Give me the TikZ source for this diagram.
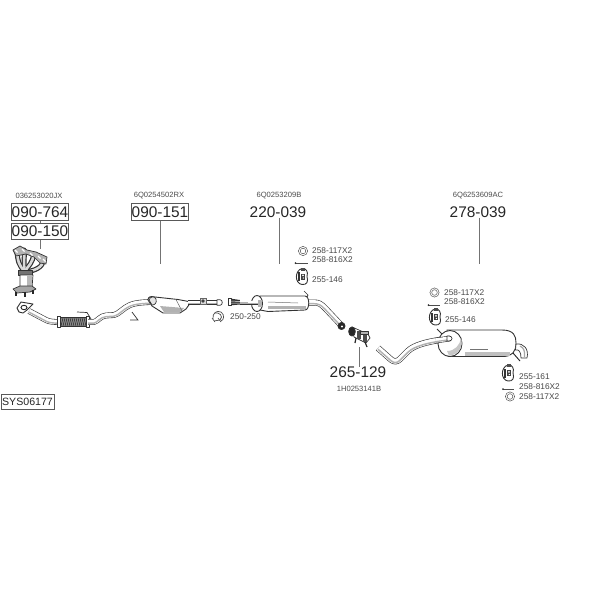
\documentclass[tikz,border=0pt]{standalone}
\usepackage{fontspec}
\setmainfont{Liberation Sans}
\tikzset{
  px/.style={x=1pt,y=-1pt},
  partno/.style={font=\fontsize{15.4}{16}\selectfont,text=black!85,inner sep=0pt},
  boxed/.style={partno,draw=black!65,line width=.6pt,minimum width=56pt,minimum height=16.5pt},
  oem/.style={font=\fontsize{7.6}{8}\selectfont,text=black!70,inner sep=0pt},
  small/.style={font=\fontsize{8.3}{9}\selectfont,text=black!72,inner sep=0pt,anchor=west},
  leader/.style={draw=black!55,line width=.7pt},
  ol/.style={draw=black!80,line width=.7pt,line join=round},
  ring/.style={draw=black!65,line width=.5pt,fill=white},
}
\newcommand{\pipeline}[2]{%
  \draw[black!80,line width=#1+1.2pt,line cap=butt,line join=round] #2;
  \draw[white,line width=#1,line cap=butt,line join=round] #2;
  \draw[black!30,line width=.3*#1,line cap=butt,line join=round,transform canvas={yshift=-.25*#1}] #2;
}
\newcommand{\washer}[1]{%
  \draw[ring] #1 circle[radius=4.6pt];
  \draw[ring] #1 circle[radius=2.8pt];
}
\newcommand{\hanger}[1]{%
  \begin{scope}[shift={#1}]
    \draw[ol,fill=white,line width=.9pt] (0,-8) .. controls (-7.5,-6) and (-7.5,7) .. (0,8) .. controls (5,8.5) and (6.5,5) .. (5,0) .. controls (6.5,-5) and (4,-8.5) .. (0,-8) -- cycle;
    \fill[black!80] (-4,-4.5) rectangle (-2,4.5);
    \fill[black!75] (-.6,-3) rectangle (3,3);
    \fill[black!70] (-1.5,-8.6) rectangle (3,-6);
    \fill[white] (1,-1.2) circle[radius=1pt];
    \fill[white] (1.4,1.5) circle[radius=.7pt];
  \end{scope}
}
\begin{document}
\begin{tikzpicture}[px]
\useasboundingbox (0,0) rectangle (600,600);
\fill[white] (0,0) rectangle (600,600);

% ---------- labels ----------
\node[oem] (o1) at (39,196) {036253020JX};
\node[oem] (o2) at (159,196) {6Q0254502RX};
\node[oem] (o3) at (279,196) {6Q0253209B};
\node[oem] (o4) at (478,196) {6Q6253609AC};
\node[oem] (o5) at (359,389) {1H0253141B};

\node[boxed] (a) at (40,212) {090-764};
\node[boxed] (b) at (40,231.5) {090-150};
\node[boxed] (c) at (160,212) {090-151};
\node[partno] (d) at (278,212) {220-039};
\node[partno] (e) at (478,212) {278-039};
\node[partno] (f) at (358,372.5) {265-129};
\node[boxed,minimum width=53pt,minimum height=15pt,font=\fontsize{10.6}{12}\selectfont] (s) at (27.5,401.5) {SYS06177};

\coordinate (bend) at (40,249);
\coordinate (cend) at (160,264);
\coordinate (dend) at (279,264);
\coordinate (eend) at (479,264);
\coordinate (fend) at (359,347);
\draw[leader] (a.south) -- (b.north);
\draw[leader] (b.south) -- (bend);
\draw[leader] (c.south) -- (cend);
\draw[leader] (d.south -| dend) -- (dend);
\draw[leader] (e.south -| eend) -- (eend);
\draw[leader] (f.north -| fend) -- (fend);

\node[small] (l1) at (312,251) {258-117X2};
\node[small] (l2) at (312,260) {258-816X2};
\node[small] (l3) at (312,280) {255-146};
\node[small] (l4) at (230,317) {250-250};
\node[small] (l5) at (444,292.5) {258-117X2};
\node[small] (l6) at (444,302) {258-816X2};
\node[small] (l7) at (445,320) {255-146};
\node[small] (l8) at (519,377) {255-161};
\node[small] (l9) at (519,386.5) {258-816X2};
\node[small] (l10) at (519,396.5) {258-117X2};

% ---------- small hardware ----------
\washer{(303,251)}
\washer{(434.5,292.5)}
\washer{(510,396.5)}
\draw[black!70,line width=.7pt] (296,263) -- (308,263);
\fill[black!80] (295.5,263) circle[radius=1pt];
\draw[black!70,line width=.7pt] (429,305) -- (440,305);
\fill[black!80] (428.5,305) circle[radius=1pt];
\draw[black!70,line width=.7pt] (503,389) -- (514,389);
\fill[black!80] (503,389) circle[radius=1pt];
\hanger{(302,276.5)}
\hanger{(435,317)}
\hanger{(508,373)}

% ---------- manifold and catalyst ----------
\foreach \xa/\ya/\cx in {17/252/18,24/250/23,33/254/27,43/259/33}{
  \draw[black!80,line width=5pt,line cap=round] (\xa,\ya) .. controls (\xa+1,\ya+9) and (\cx,\ya+12) .. (25,272);
}
\foreach \xa/\ya/\cx in {17/252/18,24/250/23,33/254/27,43/259/33}{
  \draw[black!15,line width=2.6pt,line cap=round] (\xa,\ya) .. controls (\xa+1,\ya+9) and (\cx,\ya+12) .. (25,272);
}
\draw[ol,fill=black!30] (13,250) -- (20,246) -- (27,250) -- (36,252) -- (47,257) -- (46,264) -- (40,263) -- (34,257) -- (26,254) -- (16,256) -- cycle;
\foreach \p/\q in {15/250,22/249,30/253,38/256,43/259}{\draw[white,line width=1.2pt] (\p,\q) -- ++(2.5,2.5);}
\draw[ol,fill=black!55] (18,270) rectangle (32,275);
\draw[ol,fill=white] (20,275) -- (20,288) -- (32,288) -- (33,275) -- cycle;
\fill[black!28] (27,276) rectangle (32,287);
\draw[ol,fill=black!35] (13,289) -- (20,286) -- (32,286) -- (36,289) -- (30,292) -- (17,293) -- cycle;
\draw[black!85,line width=1.2pt] (16,292) -- (16,296) (25,292) -- (25,297) (33,290) -- (33,294);

% ---------- front pipe ----------
\pipeline{4.6pt}{(29,311) -- (46,320) .. controls (49,321.5) and (52,322) .. (60,322)}
\draw[ol,fill=white,line width=.9pt] (17,308) -- (21,302) -- (33,304) -- (27,310) -- (23,313) -- (19,312) -- cycle;
\draw[black!85,line width=.9pt] (24,307.5) ellipse[x radius=3pt,y radius=2.2pt];
\draw[ol,fill=black!45] (59,317.5) rectangle (87,326.5);
\foreach \k in {0,...,13}{\draw[black!85,line width=.6pt] (60+2*\k,318) -- (62+2*\k,326);}
\draw[ol,fill=white] (57.5,316.5) rectangle (60,327.5);
\draw[ol,fill=white] (86,316.5) rectangle (89,327.5);
\pipeline{4.6pt}{(88,322) -- (94,322) .. controls (98,321) and (100,316) .. (106,315.5) -- (114,315) .. controls (119,314) and (123,308) .. (130,305) .. controls (135,303) and (140,302.5) .. (150,302)}
\draw[black!80,line width=.7pt] (77,312) -- (87,312.5) -- (91,319);
\draw[black!80,line width=.7pt] (132,312) -- (138,320) -- (130,320);
% catalyst
\draw[ol,fill=white,line width=.9pt] (148,300) .. controls (148,296.5) and (151,296) .. (155,297) -- (178,299.5) -- (186,301) -- (191,302) -- (186,309) -- (180,313) -- (163,313) -- (152,306) -- cycle;
\draw[ol,fill=black!10] (149,300) .. controls (150,296) and (155,296) .. (156,299) .. controls (157,303) and (155,305) .. (152,305) -- cycle;
\fill[black!30] (160,306) -- (184,308) -- (180,312) -- (164,312) -- cycle;
\draw[black!60,line width=.5pt] (176,299.5) -- (182,311);
\pipeline{3.6pt}{(188,302.5) -- (219,302.5)}
\draw[ol,fill=white] (217,299.7) -- (220,299.7) .. controls (223,299.7) and (223,305.3) .. (220,305.3) -- (217,305.3) -- cycle;
\draw[black!60,line width=.5pt,fill=black!15] (200,298.5) rectangle (206,304.5);
\fill[black!75] (203,301) circle[radius=1.8pt];

% ---------- centre muffler ----------
\draw[ol,fill=white] (228,298.5) rectangle (231,305.5);
\fill[black!80] (231,298.7) -- (240,300) -- (240,304.5) -- (231,305.3) -- cycle;
\draw[white,line width=.5pt] (231,301) -- (240,301.5) (231,303) -- (240,303);
\pipeline{3.8pt}{(240,302) -- (262,302)}
\pipeline{4.8pt}{(306,302.5) -- (314,302.5) .. controls (319,302.5) and (321,304) .. (325,308) -- (341,325)}
\draw[ol,fill=white,line width=.9pt] (260,296) -- (305,296) .. controls (310,296) and (310,310) .. (305,310) -- (268,311.5) -- (260,310) -- cycle;
\fill[black!30] (268,305.5) rectangle (306,309);
\draw[black!55,line width=.5pt] (268,302) -- (298,303);
\draw[ol,fill=white,line width=.9pt] (257,303.5) ellipse[x radius=5.5pt,y radius=8pt];
\fill[black!30] (258,300) rectangle (261.5,307);
\pipeline{2.8pt}{(248,302.5) -- (258,302.5)}
\draw[black!80,line width=.7pt] (304,291) -- (308,295) -- (307,297);
\draw[ol,fill=black!85] (341.5,326) circle[radius=3.6pt];
\fill[white] (342,326.5) circle[radius=1.2pt];

% ---------- clamp 250-250 ----------
\draw[black!70,line width=.7pt] (213,319) .. controls (212,313) and (217,310) .. (221,312) .. controls (225,315) and (224,320) .. (221,321);
\draw[black!70,line width=.7pt] (215,313) .. controls (219,312) and (224,316) .. (220,320) -- (214,321);
\draw[black!70,line width=.6pt] (212,318) -- (215,322) (218,318) -- (221,322);

% ---------- clamp 265-129 ----------
\draw[ol,fill=white] (352,327) -- (368,334) -- (370,338) -- (366,343) -- (354,337) -- cycle;
\draw[ol,fill=black!85] (352,331.5) ellipse[x radius=3.4pt,y radius=4.6pt];
\fill[black!70] (357,331) rectangle (361,339);
\fill[black!70] (363,334) rectangle (367,342);
\draw[black!85,line width=1.2pt] (356,338) -- (355,343);
\draw[black!85,line width=1.2pt] (365,342) -- (367,347);
\draw[ol,fill=black!30] (360,331) rectangle (368,334.5);

% ---------- rear pipe and muffler ----------
\pipeline{5pt}{(378,348) -- (391,359.5) .. controls (394,362) and (397,362) .. (400,359) -- (408,351) .. controls (414,345) and (428,341) .. (451,338.5)}
\draw[black!80,line width=.8pt] (437,329) -- (442,334);
\draw[ol,fill=white,line width=.9pt] (447,330) -- (502,330) .. controls (514,330) and (516,336) .. (516,343) .. controls (516,352) and (512,356) .. (504,356.5) -- (448,356.5) -- cycle;
\fill[black!25] (465,352) rectangle (510,355.5);
\draw[black!55,line width=.5pt] (470,349) -- (488,349);
\draw[ol,fill=white] (516,344) .. controls (524,343) and (529,349) .. (527,358) -- (521,358) .. controls (521,352) and (519,349) .. (515.5,350) -- cycle;
\draw[black!35,line width=1.2pt] (520,346) .. controls (524,348) and (525,351) .. (524.5,357);
\draw[black!85,line width=.9pt] (513,353) -- (520,361);
\draw[ol,fill=white,line width=.9pt] (450,343.5) ellipse[x radius=12pt,y radius=13pt];
\fill[black!22] (447,351) .. controls (455,351) and (460,345) .. (461,338) .. controls (464,346) and (458,355.5) .. (449,355.5) -- cycle;
\pipeline{4.4pt}{(436,340.5) -- (450,338.5)}
\draw[ol,fill=white] (449,336) .. controls (453,336) and (453,341) .. (449,341) -- (447,341) -- (447,336) -- cycle;
\end{tikzpicture}
\end{document}
